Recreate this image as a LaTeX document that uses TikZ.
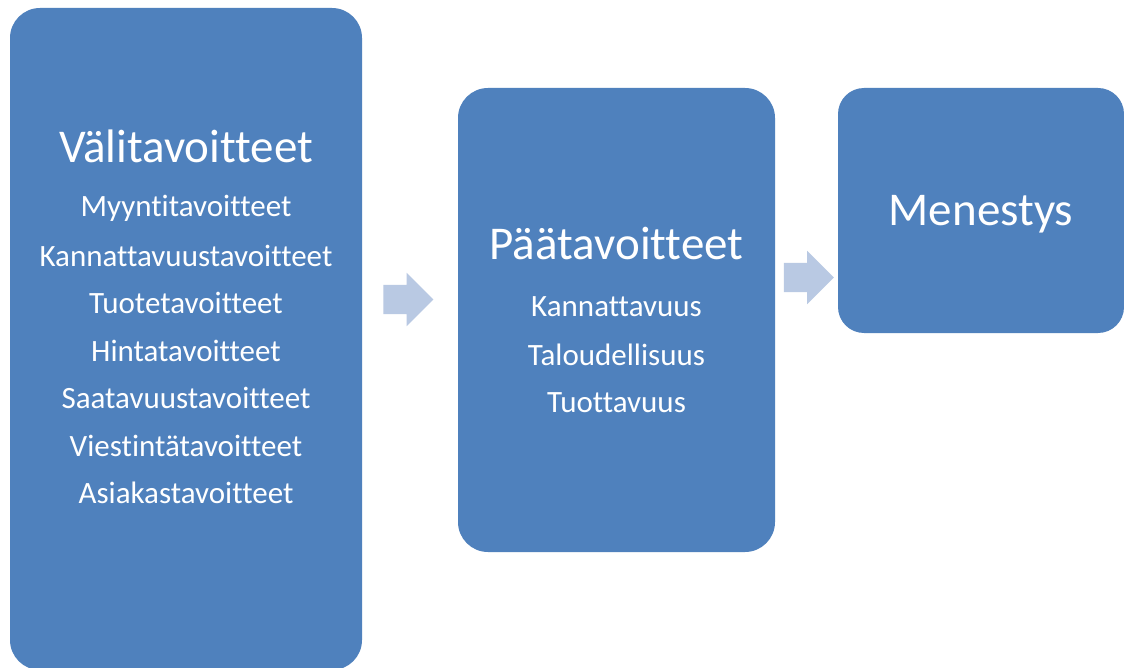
\documentclass[tikz,border=0pt]{standalone}
\usepackage{fontspec}
\setmainfont{Carlito}[Ligatures=NoCommon]
\usetikzlibrary{shapes.arrows}
\definecolor{boxblue}{HTML}{4F81BD}
\definecolor{arrowblue}{HTML}{B9C9E3}
\begin{document}
\begin{tikzpicture}[x=1pt,y=-1pt,
  goalbox/.style={fill=boxblue, draw=none, rounded corners=30pt, inner sep=0pt},
  titletext/.style={text=white, font=\fontsize{47}{56}\selectfont, inner sep=0pt},
  itemtext/.style={text=white, font=\fontsize{31}{37}\selectfont, inner sep=0pt},
  blockarrow/.style={single arrow, fill=arrowblue, draw=none, inner xsep=0pt, inner ysep=14.5pt,
    single arrow head extend=12pt, minimum height=50pt}]
\useasboundingbox (0,0) rectangle (1124,668);
\fill[white] (0,0) rectangle (1124,668);
% boxes
\node[goalbox, minimum width=352pt, minimum height=662pt] (b1) at (186,339) {};
\node[goalbox, minimum width=317pt, minimum height=464pt] (b2) at (616.5,320) {};
\node[goalbox, minimum width=286pt, minimum height=245pt, rounded corners=26pt] (b3) at (981,210.5) {};
% arrows
\node[blockarrow] (a1) at (401,299.5) {};
\node[blockarrow] (a2) at (801.5,277.5) {};
% texts box 1
\node[titletext] (t1) at (186,146) {Välitavoitteet};
\node[itemtext] (i1) at (186,208) {Myyntitavoitteet};
\node[itemtext] (i2) at (186,256) {Kannattavuustavoitteet};
\node[itemtext] (i3) at (186,303) {Tuotetavoitteet};
\node[itemtext] (i4) at (186,351) {Hintatavoitteet};
\node[itemtext] (i5) at (186,398) {Saatavuustavoitteet};
\node[itemtext] (i6) at (186,446) {Viestintätavoitteet};
\node[itemtext] (i7) at (186,493) {Asiakastavoitteet};
% texts box 2
\node[titletext] (t2) at (616.5,244) {Päätavoitteet};
\node[itemtext] (j1) at (616.5,307) {Kannattavuus};
\node[itemtext] (j2) at (616.5,355) {Taloudellisuus};
\node[itemtext] (j3) at (616.5,403) {Tuottavuus};
% text box 3
\node[titletext] (t3) at (981,214) {Menestys};
\end{tikzpicture}
\end{document}
